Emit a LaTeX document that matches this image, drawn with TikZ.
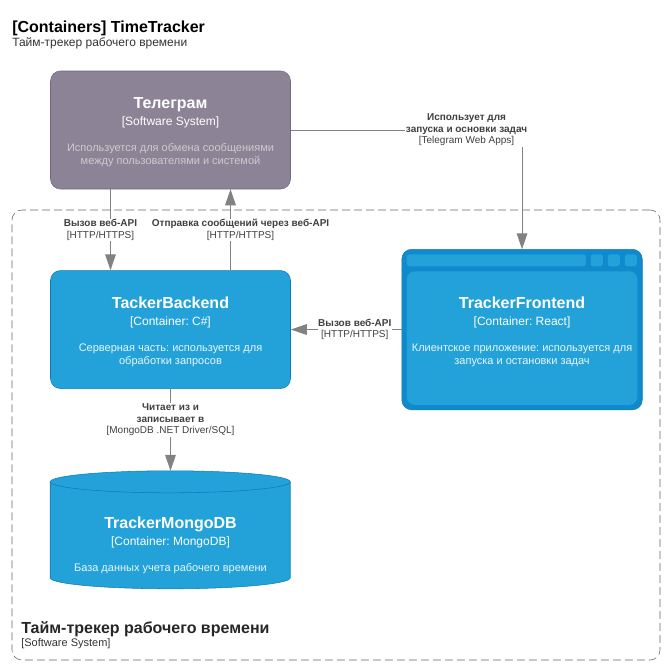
\documentclass[tikz,border=0pt]{standalone}
\usepackage{fontspec}
\setmainfont{Liberation Sans}
\usetikzlibrary{arrows.meta,positioning,backgrounds}
\frenchspacing

\definecolor{extfill}{HTML}{8C8496}
\definecolor{extline}{HTML}{736782}
\definecolor{contfill}{HTML}{23A2D9}
\definecolor{contline}{HTML}{0E7DAD}
\definecolor{webfill}{HTML}{118ACD}
\definecolor{relline}{HTML}{828282}
\definecolor{reltext}{HTML}{404040}
\definecolor{bndline}{HTML}{666666}

\newcommand{\namef}{\fontsize{12}{14}\selectfont\bfseries}
\newcommand{\typef}{\fontsize{9}{12.75}\selectfont\mdseries}
\newcommand{\descf}{\fontsize{8.25}{9.75}\selectfont}
\newcommand{\cfour}[4][white!90!contfill]{\namef #2\par\typef #3\par\vspace{10pt}\color{#1}\descf #4\par\vspace{-3pt}}

\begin{document}
\begin{tikzpicture}[x=0.75pt, y=-0.75pt,
        ext/.style = {draw=extline, fill=extfill, text=white, rounded corners=7.5pt,
            minimum width=180pt, minimum height=88.5pt, text width=176pt, inner sep=2pt, align=flush center},
        cont/.style = {ext, draw=contline, fill=contfill},
        web/.style = {minimum width=180pt, minimum height=120pt, text width=176pt, inner sep=2pt,
            align=flush center, text=white},
        db/.style = {web, minimum height=69pt},
        bound/.style = {draw=bndline, dash pattern=on 6pt off 3pt, rounded corners=7.5pt,
            minimum width=486pt, minimum height=337.5pt},
        rel/.style = {draw=relline, line width=0.75pt, -{Triangle[length=12pt, width=8pt]}},
        lbl/.style = {fill=white, text=reltext, align=center, inner sep=0.5pt,
            font=\fontsize{7.5}{8.6}\selectfont}]
    \useasboundingbox (0,0) rectangle (671,671);

    \node [anchor=base west, inner sep=0pt] (ttl) at (12,32) {\fontsize{12}{14}\selectfont\bfseries [Containers] TimeTracker};
    \node [anchor=base west, inner sep=0pt, text=black!80] (sub) at (12,46) {\fontsize{9}{11}\selectfont Тайм-трекер рабочего времени};

    \node [bound] (sys) at (336,435) {};
    \node [anchor=base west, inner sep=0pt, text=black!85] (syslbl) at (21,633) {\fontsize{12}{14}\selectfont\bfseries Тайм-трекер рабочего времени};
    \node [anchor=base west, inner sep=0pt, text=black!80] (systype) at (21,646) {\fontsize{8.25}{10}\selectfont [Software System]};

    \node [ext] (tg) at (170.5,130) {\cfour[black!20]{Телеграм}{[Software System]}{Используется для обмена сообщениями\\между пользователями и системой}};
    \node [cont, below=60.75pt of tg] (back) {\cfour{TackerBackend}{[Container: C\#]}{Серверная часть: используется для\\обработки запросов}};
    \node [web, right=83.25pt of back] (front) {\cfour{TrackerFrontend}{[Container: React]}{Клиентское приложение: используется для\\запуска и остановки задач}};
    \node [db, below=81pt of back] (mongo) {\cfour{TrackerMongoDB}{[Container: MongoDB]}{База данных учета рабочего времени}};

    \begin{scope}[on background layer]
        \filldraw [draw=contline, fill=webfill, rounded corners=7.5pt] (front.north west) rectangle (front.south east);
        \fill [contfill, rounded corners=6pt] ([shift={(5,22)}]front.north west) rectangle ([shift={(-5,-5)}]front.south east);
        \fill [contfill, rounded corners=2pt] ([shift={(5,5)}]front.north west) rectangle ([shift={(184,17)}]front.north west);
        \foreach \i in {0,1,2}
            \fill [contfill, rounded corners=2pt] ([shift={(189+17*\i,5)}]front.north west) rectangle ++(12,12);
        \filldraw [draw=contline, fill=contfill, line join=round] ([shift={(0,-15)}]mongo.north west) -- ++(0,96)
            arc [start angle=180, end angle=0, x radius=120, y radius=11] -- ++(0,-96)
            arc [start angle=0, end angle=-180, x radius=120, y radius=11] -- cycle;
        \draw [contline] ([shift={(0,-15)}]mongo.north west) arc [start angle=180, end angle=0, x radius=120, y radius=11];
    \end{scope}

    \draw [rel] ([xshift=-45pt]tg.south) -- node [lbl, xshift=-7.5pt] {\textbf{Вызов веб-API}\\{}[HTTP/HTTPS]} ([xshift=-45pt]back.north);
    \draw [rel] ([xshift=45pt]back.north) -- node [lbl, xshift=7.5pt] {\textbf{Отправка сообщений через веб-API}\\{}[HTTP/HTTPS]} ([xshift=45pt]tg.south);
    \draw [rel] (tg.east) -| node [lbl, pos=0.38] {\textbf{Использует для}\\\textbf{запуска и основки задач}\\{}[Telegram Web Apps]} (front.north);
    \draw [rel] (front.west) -- node [lbl, pos=0.423] {\textbf{Вызов веб-API}\\{}[HTTP/HTTPS]} (back.east);
    \draw [rel] (back.south) -- node [lbl, pos=0.38] {\textbf{Читает из и}\\\textbf{записывает в}\\{}[MongoDB .NET Driver/SQL]} ([yshift=19.5pt]mongo.north);
\end{tikzpicture}
\end{document}
